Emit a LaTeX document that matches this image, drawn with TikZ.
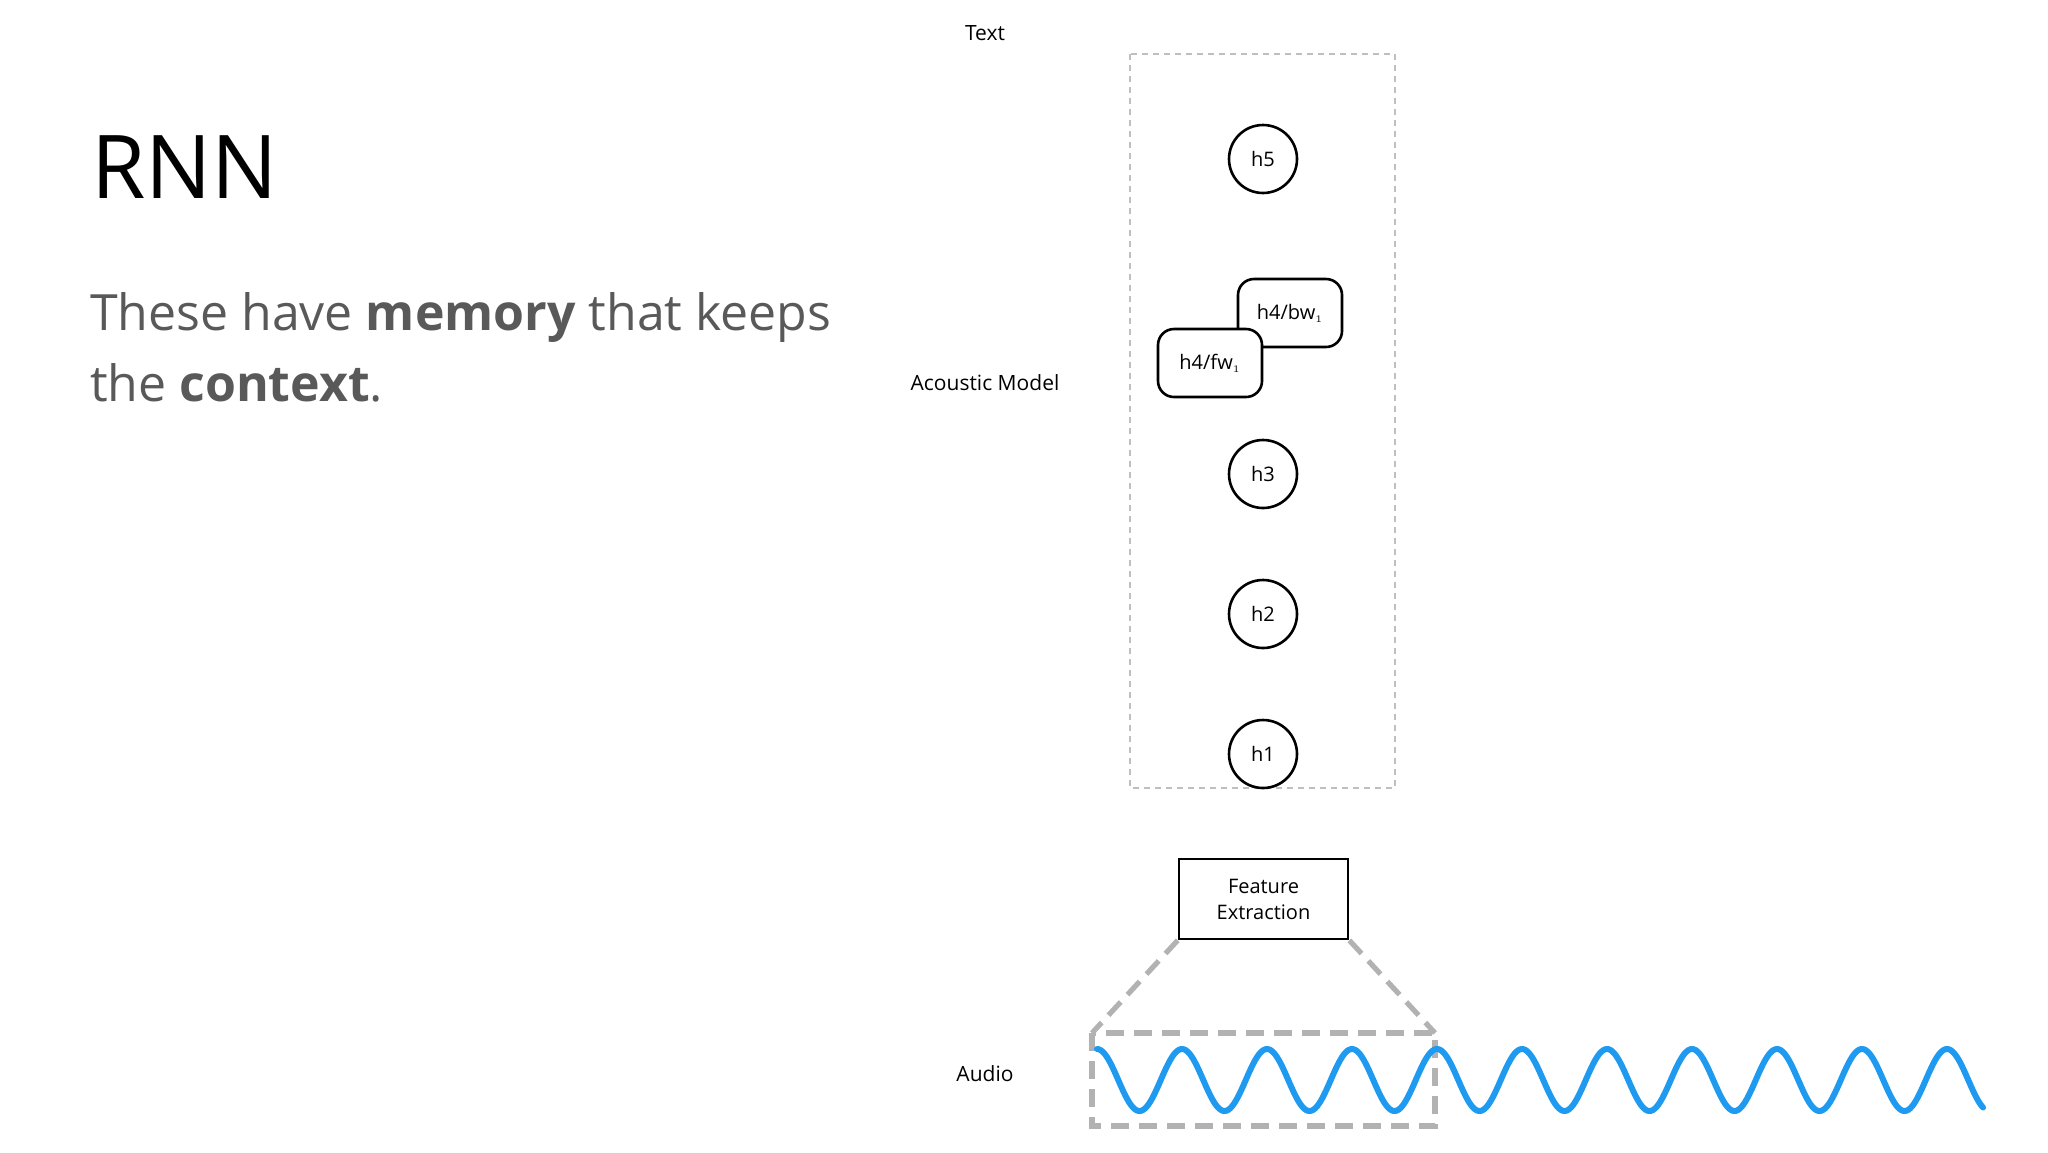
\documentclass[tikz,border=0pt]{standalone}
\usepackage{fontspec}
\setmainfont{Open Sans}
\begin{document}
\begin{tikzpicture}[x=0.5pt,y=-0.5pt,
  lab/.style={font=\fontsize{10.5}{12}\selectfont},
  hcirc/.style={draw,circle,line width=1.3pt,minimum size=34pt,inner sep=0pt,font=\fontsize{10}{12}\selectfont},
  hbox/.style={draw,rounded corners=8pt,line width=1.3pt,fill=white,minimum width=52pt,minimum height=34pt,inner sep=0pt,font=\fontsize{10}{12}\selectfont},
  gdash/.style={draw=black!30,line width=2.6pt,dash pattern=on 9pt off 5pt}]
\useasboundingbox (0,0) rectangle (2048,1152);
\node[anchor=west,font=\fontsize{44}{50}\selectfont] (title) at (84,167) {RNN};
\node[anchor=north west,align=left,text=black!65,font=\fontsize{25}{35.5}\selectfont] (body) at (83,285) {These have \textbf{memory} that keeps\\the \textbf{context}.};
\draw[black!25,line width=0.6pt,dash pattern=on 3pt off 2.5pt] (1130,54) rectangle (1395,788);
\node[lab] (ttext) at (985,33) {Text};
\node[lab] (tam) at (985,383) {Acoustic Model};
\node[lab] (taud) at (985,1074) {Audio};
\node[hcirc] (h5) at (1263,159) {h5};
\node[hcirc] (h3) at (1263,474) {h3};
\node[hcirc] (h2) at (1263,614) {h2};
\node[hcirc] (h1) at (1263,754) {h1};
\node[hbox] (bw) at (1290,313) {h4/bw$_{\scriptscriptstyle 1}$};
\node[hbox] (fw) at (1210,363) {h4/fw$_{\scriptscriptstyle 1}$};
\node[draw,line width=1.3pt,minimum width=84.5pt,minimum height=40pt,align=center,inner sep=0pt,font=\fontsize{10}{13}\selectfont] (fe) at (1263.5,899) {Feature\\Extraction};
\coordinate (al) at (1092,1033);
\coordinate (ar) at (1435,1033);
\draw[gdash] (al) rectangle (1435,1126);
\draw[gdash] (fe.south west) -- (al);
\draw[gdash] (fe.south east) -- (ar);
\draw[color={rgb,255:red,30;green,155;blue,240},line width=3pt,line cap=round] plot[domain=1097:1983,samples=500] (\x,{1080-31*cos(4.23529*(\x-1097))});
\end{tikzpicture}
\end{document}
